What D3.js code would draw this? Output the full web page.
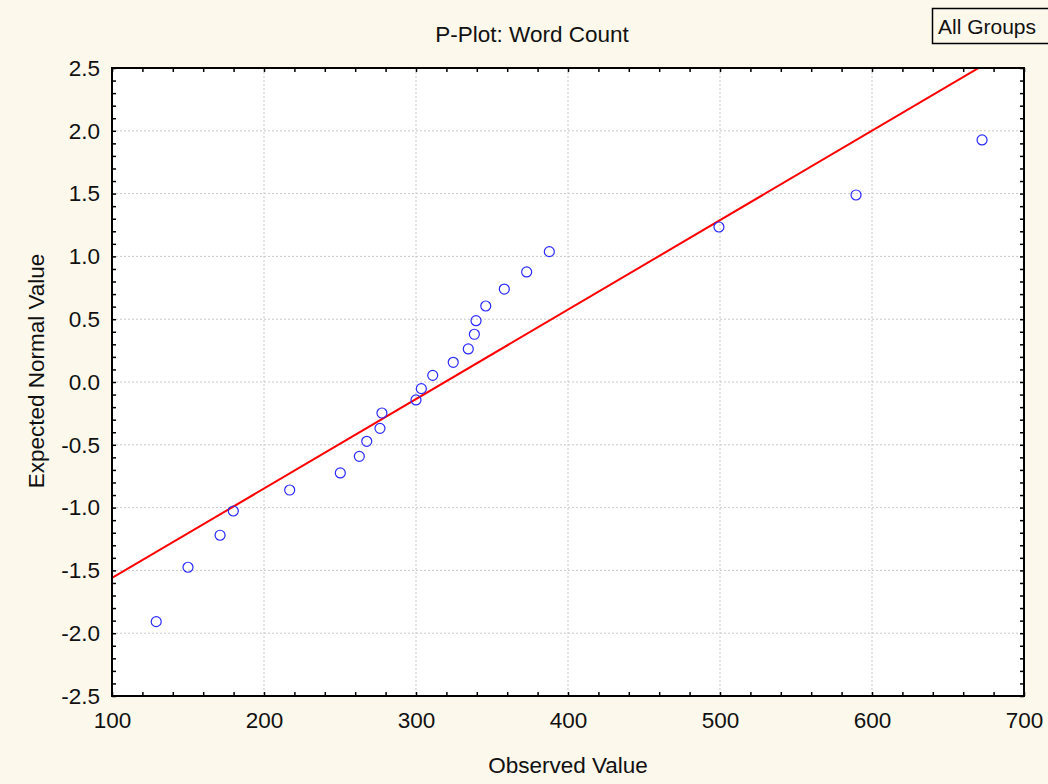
<!DOCTYPE html>
<html>
<head>
<meta charset="utf-8">
<script src="https://cdn.jsdelivr.net/npm/d3@7"></script>
<style>
  html, body { margin: 0; padding: 0; background: #fdf8ec; }
  svg { display: block; font-family: "Liberation Sans", Arial, sans-serif; }
  .grid line { stroke: #c8c8c8; stroke-dasharray: 2,2; }
  .ticks path { display: none; }
  .ticks line { stroke: #000; stroke-width: 1.5; }
  .labels path, .labels line { display: none; }
  .labels text { font-family: "Liberation Sans", Arial, sans-serif; font-size: 22.5px; fill: #111; }
</style>
</head>
<body>
<script>
'use strict';

// observed word counts (x) and their expected normal values (y)
const observed = [129.1, 150.0, 171.1, 179.8, 216.9, 250.2, 262.7, 267.6, 276.3, 277.6, 300.0, 303.5,
                  311.0, 324.5, 334.4, 338.4, 339.5, 345.9, 358.1, 372.8, 387.7, 499.3, 589.5, 672.4];
const expected = [-1.908, -1.475, -1.220, -1.027, -0.860, -0.724, -0.592, -0.472, -0.369, -0.247, -0.143, -0.053,
                  0.053, 0.157, 0.263, 0.380, 0.488, 0.605, 0.740, 0.876, 1.038, 1.234, 1.489, 1.927];

// fitted normal line: y = (x - mean) / sd
const fitMean = 319.1;
const fitSd = 140.4;

const xTicks = [100, 200, 300, 400, 500, 600, 700];
const yTicks = [-2.5, -2.0, -1.5, -1.0, -0.5, 0.0, 0.5, 1.0, 1.5, 2.0, 2.5];
const xMinor = d3.range(100, 701, 20);
const yMinor = d3.range(-25, 26, 1).map(d => d / 10);

const title = "P-Plot: Word Count";
const xTitle = "Observed Value";
const yTitle = "Expected Normal Value";
const legendText = "All Groups";

const width = 1048, height = 784;
const pl = 112, pr = 1024, pt = 68, pb = 696;
const fontSize = '22.5px';

const svg = d3.select('body').append('svg')
  .attr('width', width).attr('height', height);

let xScale = d3.scaleLinear().domain([100, 700]).range([pl, pr]);
let yScale = d3.scaleLinear().domain([-2.5, 2.5]).range([pb, pt]);

svg.append('rect')
  .attr('x', pl).attr('y', pt)
  .attr('width', pr - pl).attr('height', pb - pt)
  .attr('fill', '#fff');

svg.append('defs').append('clipPath').attr('id', 'plot')
  .append('rect')
  .attr('x', pl).attr('y', pt)
  .attr('width', pr - pl).attr('height', pb - pt);

// grid
svg.append('g').attr('class', 'grid')
  .selectAll('line').data(xTicks.slice(1, -1)).enter().append('line')
  .attr('x1', d => xScale(d)).attr('x2', d => xScale(d))
  .attr('y1', pt).attr('y2', pb);
svg.append('g').attr('class', 'grid')
  .selectAll('line').data(yTicks.slice(1, -1)).enter().append('line')
  .attr('y1', d => yScale(d)).attr('y2', d => yScale(d))
  .attr('x1', pl).attr('x2', pr);

// inward minor ticks on all four sides
svg.append('g').attr('class', 'ticks')
  .attr('transform', `translate(0, ${pb})`)
  .call(d3.axisBottom(xScale).tickValues(xMinor).tickSize(-4).tickFormat(''));
svg.append('g').attr('class', 'ticks')
  .attr('transform', `translate(0, ${pt})`)
  .call(d3.axisTop(xScale).tickValues(xMinor).tickSize(-4).tickFormat(''));
svg.append('g').attr('class', 'ticks')
  .attr('transform', `translate(${pl}, 0)`)
  .call(d3.axisLeft(yScale).tickValues(yMinor).tickSize(-4).tickFormat(''));
svg.append('g').attr('class', 'ticks')
  .attr('transform', `translate(${pr}, 0)`)
  .call(d3.axisRight(yScale).tickValues(yMinor).tickSize(-4).tickFormat(''));

// tick labels (plain hyphen for negatives)
svg.append('g').attr('class', 'labels')
  .attr('transform', `translate(0, ${pb})`)
  .call(d3.axisBottom(xScale).tickValues(xTicks).tickSize(0).tickPadding(16).tickFormat(d => String(d)));
svg.append('g').attr('class', 'labels')
  .attr('transform', `translate(${pl}, 0)`)
  .call(d3.axisLeft(yScale).tickValues(yTicks).tickSize(0).tickPadding(12).tickFormat(d => d.toFixed(1)));

// fitted line
let line = d3.line()
  .x(d => xScale(d))
  .y(d => yScale((d - fitMean) / fitSd));
svg.append('path')
  .attr('clip-path', 'url(#plot)')
  .attr('d', line([100, 700]))
  .attr('fill', 'none')
  .attr('stroke', '#ff0000')
  .attr('stroke-width', 2);

// points
svg.append('g').selectAll('circle')
  .data(observed).enter().append('circle')
  .attr('cx', d => xScale(d))
  .attr('cy', (d, i) => yScale(expected[i]))
  .attr('r', 5)
  .attr('fill', 'none')
  .attr('stroke', '#2a2aff')
  .attr('stroke-width', 1.2);

// frame
svg.append('rect')
  .attr('x', pl).attr('y', pt)
  .attr('width', pr - pl).attr('height', pb - pt)
  .attr('fill', 'none')
  .attr('stroke', '#000')
  .attr('stroke-width', 2);

// texts
svg.append('text')
  .attr('x', 532).attr('y', 42)
  .attr('text-anchor', 'middle')
  .style('font-size', fontSize).attr('fill', '#111')
  .text(title);

svg.append('text')
  .attr('x', 568).attr('y', 773)
  .attr('text-anchor', 'middle')
  .style('font-size', fontSize).attr('fill', '#111')
  .text(xTitle);

svg.append('text')
  .attr('transform', `translate(44, ${(pt + pb) / 2 - 11})rotate(-90)`)
  .attr('text-anchor', 'middle')
  .style('font-size', fontSize).attr('fill', '#111')
  .text(yTitle);

// legend box
svg.append('rect')
  .attr('x', 932.5).attr('y', 8.5)
  .attr('width', 120).attr('height', 35)
  .attr('fill', '#fdf8ec')
  .attr('stroke', '#000').attr('stroke-width', 1.5);
svg.append('text')
  .attr('x', 938).attr('y', 34)
  .style('font-size', '21px').attr('fill', '#111')
  .text(legendText);
</script>
</body>
</html>
